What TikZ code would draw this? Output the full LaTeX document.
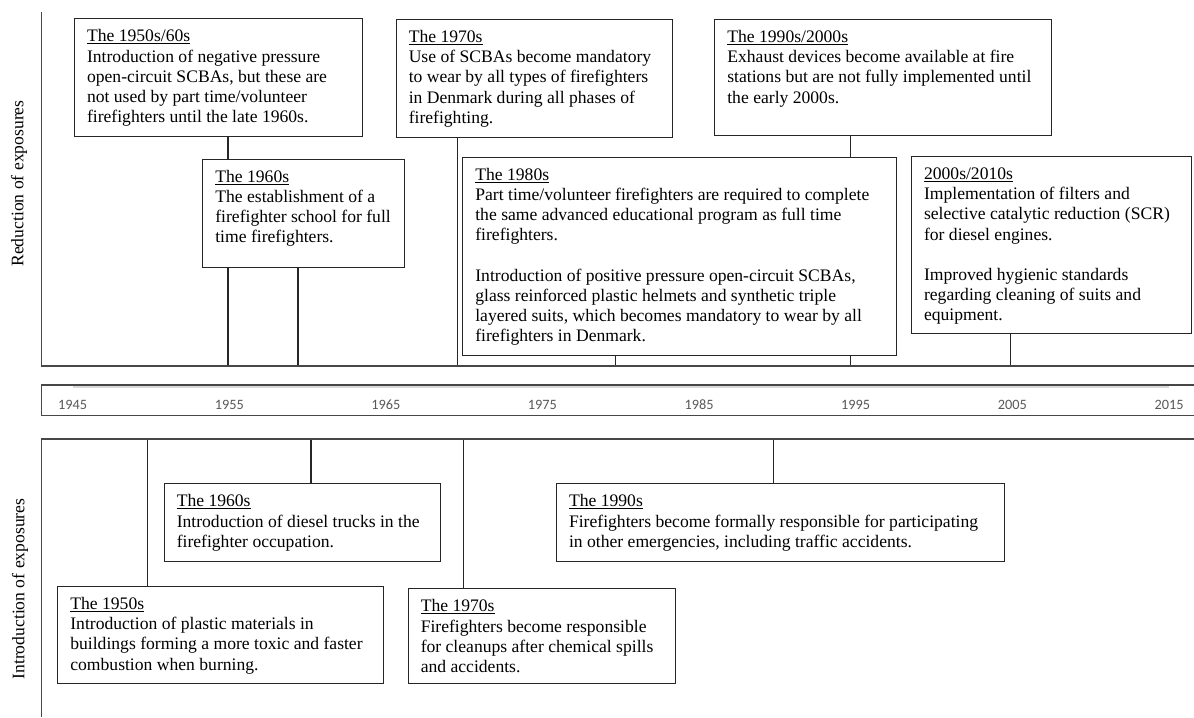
\documentclass[tikz,border=0pt]{standalone}
\usepackage{fontspec}
\setmainfont{Liberation Serif}
\newfontfamily\yearfont{Carlito}
\usetikzlibrary{backgrounds}
\newcommand{\ulin}[1]{\setbox0\hbox{#1}\rlap{\rule[-2.3bp]{\wd0}{0.9bp}}\box0}
\newcommand{\evbox}[3]{\begin{minipage}[c][#2][t]{#1}\raggedright\leftskip=12.5bp\parindent=0pt\rule{0pt}{23bp}#3\end{minipage}}
\tikzset{
  evt/.style={draw=black!85, line width=1.1bp, fill=white, inner sep=0pt, anchor=north west,
    font=\fontsize{17.6bp}{20.2bp}\selectfont},
  conn/.style={draw=black!85, line width=1.1bp},
  axisline/.style={draw=black!72, line width=1.1bp},
  yr/.style={font=\yearfont\fontsize{14.3bp}{16bp}\selectfont, text=black!65, inner sep=0pt, anchor=base},
  side/.style={rotate=90, font=\fontsize{17.6bp}{20bp}\selectfont, inner sep=0pt}
}
\begin{document}
\begin{tikzpicture}[x=1bp,y=-1bp]
\useasboundingbox (0,0) rectangle (1194,718);

% side labels
\node[side] (lr) at (19,183.5) {Reduction of exposures};
\node[side] (li) at (20,589) {Introduction of exposures};

% axes
\draw[axisline] (41.7,12) -- (41.7,366) -- (1194,366);
\draw[axisline] (1194,439) -- (41.7,439) -- (41.7,717);

% year band
\draw[axisline] (1194,385) -- (41.7,385) -- (41.7,415.7) -- (1194,415.7);
\draw[black!15, line width=1.5bp] (72.7,386.9) -- (1169,386.9);
\node[yr] (y1945) at (72.7,409) {1945};
\node[yr] (y1955) at (229.3,409) {1955};
\node[yr] (y1965) at (385.8,409) {1965};
\node[yr] (y1975) at (542.4,409) {1975};
\node[yr] (y1985) at (699.1,409) {1985};
\node[yr] (y1995) at (855.7,409) {1995};
\node[yr] (y2005) at (1012.3,409) {2005};
\node[yr] (y2015) at (1169,409) {2015};

% top events
\node[evt] (A) at (74,18.3) {\evbox{288.3bp}{117.4bp}{\ulin{The 1950s/60s}\\
Introduction of negative pressure\\
open-circuit SCBAs, but these are\\
not used by part time/volunteer\\
firefighters until the late 1960s.}};
\node[evt] (C) at (395.7,19) {\evbox{276.6bp}{117.7bp}{\ulin{The 1970s}\\
Use of SCBAs become mandatory\\
to wear by all types of firefighters\\
in Denmark during all phases of\\
firefighting.}};
\node[evt] (D) at (714.3,19) {\evbox{336.7bp}{115.7bp}{\ulin{The 1990s/2000s}\\
Exhaust devices become available at fire\\
stations but are not fully implemented until\\
the early 2000s.}};
\node[evt] (B) at (202.3,158.7) {\evbox{201.7bp}{108bp}{\ulin{The 1960s}\\
The establishment of a\\
firefighter school for full\\
time firefighters.}};
\node[evt] (E) at (462.3,156.7) {\evbox{433.7bp}{198.6bp}{\ulin{The 1980s}\\
Part time/volunteer firefighters are required to complete\\
the same advanced educational program as full time\\
firefighters.\\[20.2bp]
Introduction of positive pressure open-circuit SCBAs,\\
glass reinforced plastic helmets and synthetic triple\\
layered suits, which becomes mandatory to wear by all\\
firefighters in Denmark.}};
\node[evt] (F) at (911,156) {\evbox{280.3bp}{176.7bp}{\ulin{2000s/2010s}\\
Implementation of filters and\\
selective catalytic reduction (SCR)\\
for diesel engines.\\[20.2bp]
Improved hygienic standards\\
regarding cleaning of suits and\\
equipment.}};

% bottom events
\node[evt] (G) at (163.7,483.3) {\evbox{276.3bp}{77.7bp}{\ulin{The 1960s}\\
Introduction of diesel trucks in the\\
firefighter occupation.}};
\node[evt] (J) at (556,483.3) {\evbox{448bp}{77.7bp}{\ulin{The 1990s}\\
Firefighters become formally responsible for participating\\
in other emergencies, including traffic accidents.}};
\node[evt] (H) at (57.3,586) {\evbox{325.4bp}{97.3bp}{\ulin{The 1950s}\\
Introduction of plastic materials in\\
buildings forming a more toxic and faster\\
combustion when burning.}};
\node[evt] (I) at (407.7,588.3) {\evbox{267bp}{95bp}{\ulin{The 1970s}\\
Firefighters become responsible\\
for cleanups after chemical spills\\
and accidents.}};

% connector end points
\coordinate (t1) at (228,366);
\coordinate (t2) at (298,366);
\coordinate (t3) at (457.3,366);
\coordinate (t4) at (615.3,366);
\coordinate (t5) at (850.7,366);
\coordinate (t6) at (1010.7,366);
\coordinate (b1) at (147.7,439);
\coordinate (b2) at (311,439);
\coordinate (b3) at (463.3,439);
\coordinate (b4) at (773.3,439);

\begin{scope}[on background layer]
\fill[white] (0,0) rectangle (1194,718);
\draw[conn] (A.south -| t1) -- (t1);
\draw[conn] (B.south -| t2) -- (t2);
\draw[conn] (C.south -| t3) -- (t3);
\draw[conn] (E.south -| t4) -- (t4);
\draw[conn] (D.south -| t5) -- (t5);
\draw[conn] (F.south -| t6) -- (t6);
\draw[conn] (b1) -- (b1 |- H.north);
\draw[conn] (b2) -- (b2 |- G.north);
\draw[conn] (b3) -- (b3 |- I.north);
\draw[conn] (b4) -- (b4 |- J.north);
\end{scope}
\end{tikzpicture}
\end{document}
